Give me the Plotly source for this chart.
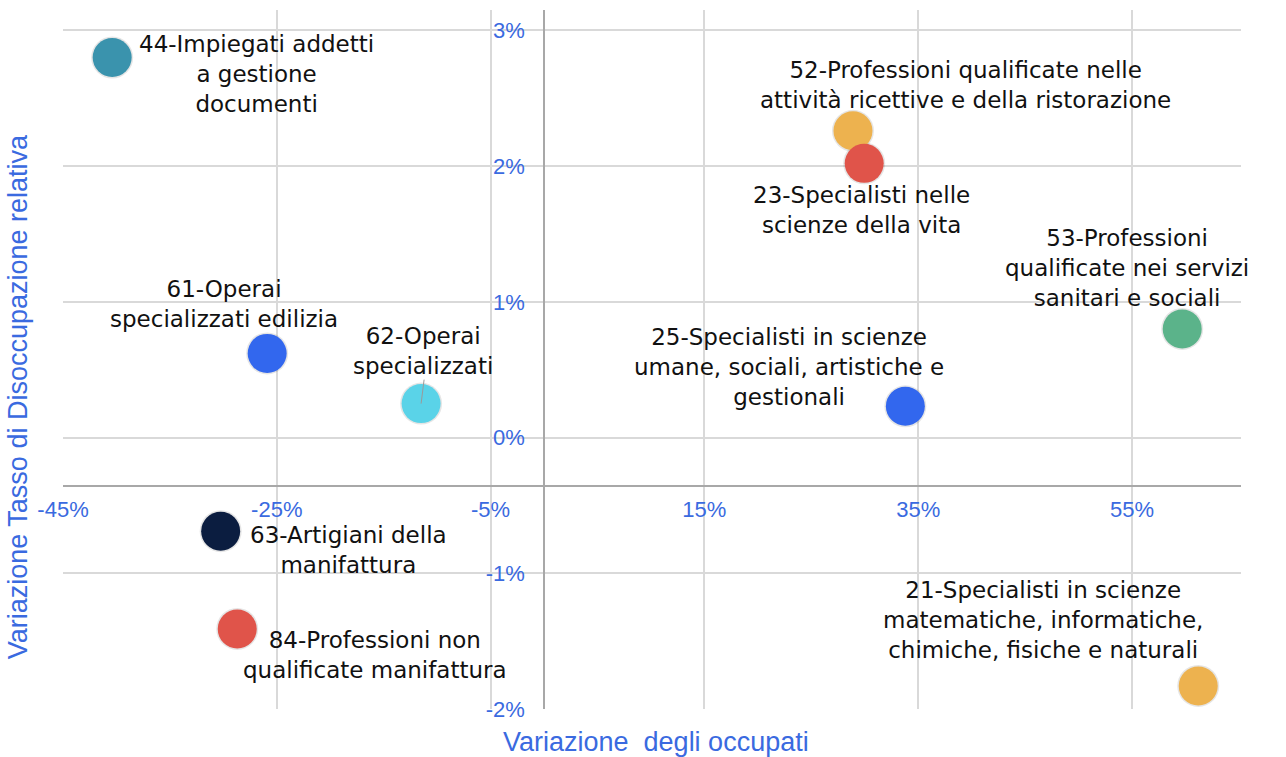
import plotly.graph_objects as go

# ---- data ----
labels = [
    "44-Impiegati addetti<br>a gestione<br>documenti",
    "61-Operai<br>specializzati edilizia",
    "62-Operai<br>specializzati",
    "63-Artigiani della<br>manifattura",
    "84-Professioni non<br>qualificate manifattura",
    "52-Professioni qualificate nelle<br>attività ricettive e della ristorazione",
    "23-Specialisti nelle<br>scienze della vita",
    "25-Specialisti in scienze<br>umane, sociali, artistiche e<br>gestionali",
    "53-Professioni<br>qualificate nei servizi<br>sanitari e sociali",
    "21-Specialisti in scienze<br>matematiche, informatiche,<br>chimiche, fisiche e naturali",
]
var_occupati = [-0.404, -0.259, -0.115, -0.3025, -0.287, 0.289, 0.2995, 0.338, 0.597, 0.612]
var_disocc = [0.0280, 0.0062, 0.0025, -0.0069, -0.0141, 0.0226, 0.0202, 0.0023, 0.0080, -0.0183]

x_ticks = [-0.45, -0.25, -0.05, 0.15, 0.35, 0.55]
x_ticktext = ["-45%", "-25%", "-5%", "15%", "35%", "55%"]
y_ticks = [-0.02, -0.01, 0.0, 0.01, 0.02, 0.03]
y_ticktext = ["-2%", "-1%", "0%", "1%", "2%", "3%"]

# ---- style ----
colors = ["#3a93ad", "#3267ee", "#5ad3e8", "#0b1d40", "#e0544a",
          "#edb24f", "#e0544a", "#3267ee", "#5bb38a", "#edb24f"]
# label block centre offsets from the marker, in pixels (dx right, dy up)
label_offsets = [(144, -16), (-43, 49), (2, 53), (128, -19), (138, -26),
                 (113, 46), (-3, -47), (-116, 39), (-55, 61), (-155, 66)]
label_font = dict(family="DejaVu Sans", size=23, color="#111111")

x_range = [-0.45, 0.652]
y_range = [-0.02, 0.0315]
x_axis_cross_y = -0.0036
y_axis_cross_x = 0.0

blue = "#3a6ae0"
grid = "#d9d9d9"
axis_line = "#a8a8a8"

fig = go.Figure()

# subtle shadow under the markers
fig.add_trace(go.Scatter(
    x=var_occupati, y=var_disocc, mode="markers",
    marker=dict(size=42, color="rgba(0,0,0,0.10)", line=dict(width=0)),
    hoverinfo="skip", showlegend=False,
))
fig.add_trace(go.Scatter(
    x=var_occupati, y=var_disocc, mode="markers",
    marker=dict(size=39, color=colors, line=dict(width=0), opacity=1),
    text=labels, hoverinfo="text", showlegend=False,
))

for lab, xv, yv, (dx, dy) in zip(labels, var_occupati, var_disocc, label_offsets):
    fig.add_annotation(
        x=xv, y=yv, xref="x", yref="y", text=lab, showarrow=False,
        xshift=dx, yshift=dy, xanchor="center", yanchor="middle",
        font=label_font, align="center",
    )

# thin leader line for "62-Operai specializzati"
fig.add_shape(
    type="line", xref="x", yref="y",
    xsizemode="pixel", ysizemode="pixel",
    xanchor=var_occupati[2], yanchor=var_disocc[2],
    x0=0, y0=0, x1=3, y1=24,
    line=dict(color="#9a9a9a", width=1),
)

xpos = (x_axis_cross_y - y_range[0]) / (y_range[1] - y_range[0])
ypos = (y_axis_cross_x - x_range[0]) / (x_range[1] - x_range[0])

fig.update_layout(
    width=1286, height=757,
    margin=dict(l=63, r=45, t=10, b=48),
    paper_bgcolor="white", plot_bgcolor="white",
    xaxis=dict(
        range=x_range, tickvals=x_ticks, ticktext=x_ticktext,
        showgrid=True, gridcolor=grid, gridwidth=1.5, zeroline=False,
        showline=True, linecolor=axis_line, linewidth=1.5,
        anchor="free", position=xpos, ticks="", ticklabelstandoff=3,
        tickfont=dict(family="Liberation Sans", size=22, color=blue),
    ),
    yaxis=dict(
        range=y_range, tickvals=y_ticks, ticktext=y_ticktext,
        showgrid=True, gridcolor=grid, gridwidth=1.5, zeroline=False,
        showline=True, linecolor=axis_line, linewidth=1.5,
        anchor="free", position=ypos, ticks="", ticklabelstandoff=14,
        tickfont=dict(family="Liberation Sans", size=22, color=blue),
    ),
)

fig.add_annotation(
    text="Variazione  degli occupati", xref="paper", yref="paper",
    x=0.503, y=0, yshift=-33, showarrow=False, yanchor="middle",
    font=dict(family="Liberation Sans", size=27, color=blue),
)
fig.add_annotation(
    text="Variazione Tasso di Disoccupazione relativa", xref="paper", yref="paper",
    x=0, xshift=-45, y=0.446, showarrow=False, textangle=-90,
    xanchor="center", yanchor="middle",
    font=dict(family="Liberation Sans", size=27, color=blue),
)

fig.write_html("out.html", post_script="document.body.style.margin='0';",
               config={"displayModeBar": False})
